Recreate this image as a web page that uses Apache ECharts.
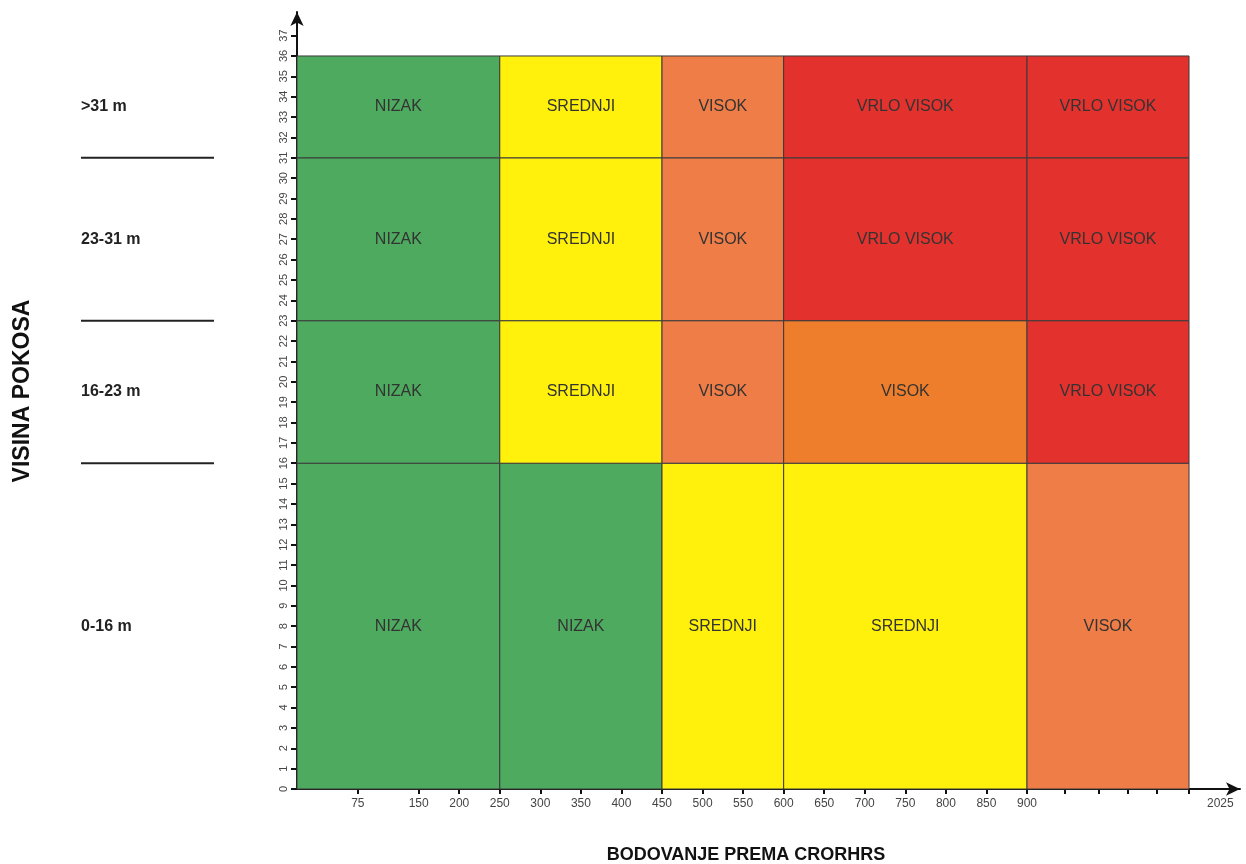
<!DOCTYPE html>
<html>
<head>
<meta charset="utf-8">
<script src="https://cdn.jsdelivr.net/npm/echarts@6/dist/echarts.min.js"></script>
<style>
  html, body { margin: 0; padding: 0; background: #fff; }
  #chart { width: 1246px; height: 864px; }
</style>
</head>
<body>
<div id="chart"></div>
<script>
// ---- data ----
const colBounds = [0, 250, 450, 600, 900, 2025];      // CRORHRS score bands
const rowBounds = [0, 16, 23, 31, 36];                // slope height bands (m)
const rowNames = ['0-16 m', '16-23 m', '23-31 m', '>31 m'];
const riskGrid = [                                     // bottom row first
  ['NIZAK', 'NIZAK', 'SREDNJI', 'SREDNJI', 'VISOK'],
  ['NIZAK', 'SREDNJI', 'VISOK', 'VISOK', 'VRLO VISOK'],
  ['NIZAK', 'SREDNJI', 'VISOK', 'VRLO VISOK', 'VRLO VISOK'],
  ['NIZAK', 'SREDNJI', 'VISOK', 'VRLO VISOK', 'VRLO VISOK']
];
const xTickLabels = [75, 150, 200, 250, 300, 350, 400, 450, 500, 550, 600, 650, 700, 750, 800, 850, 900];
const xTailTicks = [1160, 1400, 1600, 1800, 2025];
const xEndLabel = [2025];
const yTickLabels = [0,1,2,3,4,5,6,7,8,9,10,11,12,13,14,15,16,17,18,19,20,21,22,23,24,25,26,27,28,29,30,31,32,33,34,35,36,37];
const yTitle = 'VISINA POKOSA';
const xTitle = 'BODOVANJE PREMA CRORHRS';

// ---- styles ----
const riskColors = {
  'NIZAK': '#4eaa5f',
  'SREDNJI': '#fff10c',
  'VISOK': '#ef7d47',
  'VRLO VISOK': '#e3322d'
};
const colorOverride = { '1,3': '#ee7e2c' };
const FONT = "'Liberation Sans', Arial, sans-serif";
const SPLIT = 900;

const cellsMain = [], cellsTail = [];
for (let r = 0; r < riskGrid.length; r++) {
  for (let c = 0; c < riskGrid[r].length; c++) {
    const label = riskGrid[r][c];
    const color = colorOverride[r + ',' + c] || riskColors[label];
    const item = [colBounds[c], colBounds[c + 1], rowBounds[r], rowBounds[r + 1], label, color];
    (colBounds[c + 1] <= SPLIT ? cellsMain : cellsTail).push(item);
  }
}

function renderCell(params, api) {
  const d = params.dataIndex;
  const src = params.seriesIndex === 0 ? cellsMain : cellsTail;
  const it = src[d];
  const p0 = api.coord([it[0], it[2]]);
  const p1 = api.coord([it[1], it[3]]);
  const x = p0[0], y = p1[1], w = p1[0] - p0[0], h = p0[1] - p1[1];
  return {
    type: 'group',
    children: [
      { type: 'rect', shape: { x, y, width: w, height: h },
        style: { fill: it[5], stroke: '#3a3a3a', lineWidth: 1 } },
      { type: 'text', x: x + w / 2, y: y + h / 2,
        style: { text: it[4], fill: '#333', font: '16px ' + FONT, align: 'center', verticalAlign: 'middle' } }
    ]
  };
}

const bandLines = rowBounds.slice(1, -1);
const bandLabels = rowNames.map((n, i) => [n, (rowBounds[i] + rowBounds[i + 1]) / 2]);

const Y_MAX = 38.16;
const chart = echarts.init(document.getElementById('chart'));
const commonY = { type: 'value', min: 0, max: Y_MAX };

chart.setOption({
  animation: false,
  backgroundColor: '#fff',
  title: {
    text: xTitle, left: 741, top: 841, textAlign: 'center',
    textStyle: { fontFamily: FONT, fontWeight: 'bold', fontSize: 18, color: '#111' }
  },
  graphic: [{
    type: 'text', x: 23, y: 391, rotation: Math.PI / 2,
    style: { text: yTitle, font: 'bold 23px ' + FONT, fill: '#111', align: 'center', verticalAlign: 'middle' }
  }],
  grid: [
    { left: 297, width: 730, top: 12, height: 777 },
    { left: 1027, width: 213, top: 12, height: 777 },
    { left: 81, width: 133, top: 12, height: 777 }
  ],
  xAxis: [
    { gridIndex: 0, type: 'value', min: 0, max: SPLIT,
      axisLine: { show: true, lineStyle: { color: '#111', width: 2 } },
      axisTick: { show: true, customValues: xTickLabels, length: 5, lineStyle: { color: '#111', width: 2 } },
      axisLabel: { customValues: xTickLabels, margin: 9, fontSize: 12, color: '#444', fontFamily: FONT,
        formatter: v => String(v) },
      splitLine: { show: false } },
    { gridIndex: 1, type: 'value', min: SPLIT, max: 2379,
      axisLine: { show: true, symbol: ['none', 'arrow'], symbolSize: [10, 14], lineStyle: { color: '#111', width: 2 } },
      axisTick: { show: true, customValues: xTailTicks, length: 5, lineStyle: { color: '#111', width: 2 } },
      axisLabel: { customValues: xEndLabel, margin: 9, fontSize: 12, color: '#444', fontFamily: FONT,
        align: 'left', padding: [0, 0, 0, 18], formatter: v => String(v) },
      splitLine: { show: false } },
    { gridIndex: 2, type: 'value', min: 0, max: 1, show: false }
  ],
  yAxis: [
    Object.assign({ gridIndex: 0,
      axisLine: { show: true, symbol: ['none', 'arrow'], symbolSize: [10, 14], lineStyle: { color: '#111', width: 2 } },
      axisTick: { show: true, customValues: yTickLabels, length: 6, lineStyle: { color: '#111', width: 2 } },
      axisLabel: { customValues: yTickLabels, rotate: 90, margin: 8, fontSize: 11, color: '#444', fontFamily: FONT,
        formatter: v => String(v) },
      splitLine: { show: false } }, commonY),
    Object.assign({ gridIndex: 1, show: false }, commonY),
    Object.assign({ gridIndex: 2, show: false }, commonY)
  ],
  series: [
    { type: 'custom', xAxisIndex: 0, yAxisIndex: 0, renderItem: renderCell, data: cellsMain, silent: true },
    { type: 'custom', xAxisIndex: 1, yAxisIndex: 1, renderItem: renderCell, data: cellsTail, silent: true },
    { type: 'custom', xAxisIndex: 2, yAxisIndex: 2, data: bandLines, silent: true,
      renderItem(params, api) {
        const a = api.coord([0, api.value(0)]);
        const b = api.coord([1, api.value(0)]);
        return { type: 'line', shape: { x1: a[0], y1: a[1], x2: b[0], y2: b[1] }, style: { stroke: '#222', lineWidth: 2 } };
      } },
    { type: 'custom', xAxisIndex: 2, yAxisIndex: 2, data: bandLabels, silent: true,
      encode: { y: 1 },
      renderItem(params, api) {
        const it = bandLabels[params.dataIndex];
        const p = api.coord([0, it[1]]);
        return { type: 'text', x: p[0], y: p[1],
          style: { text: it[0], font: 'bold 16px ' + FONT, fill: '#222', align: 'left', verticalAlign: 'middle' } };
      } }
  ]
});
</script>
</body>
</html>
